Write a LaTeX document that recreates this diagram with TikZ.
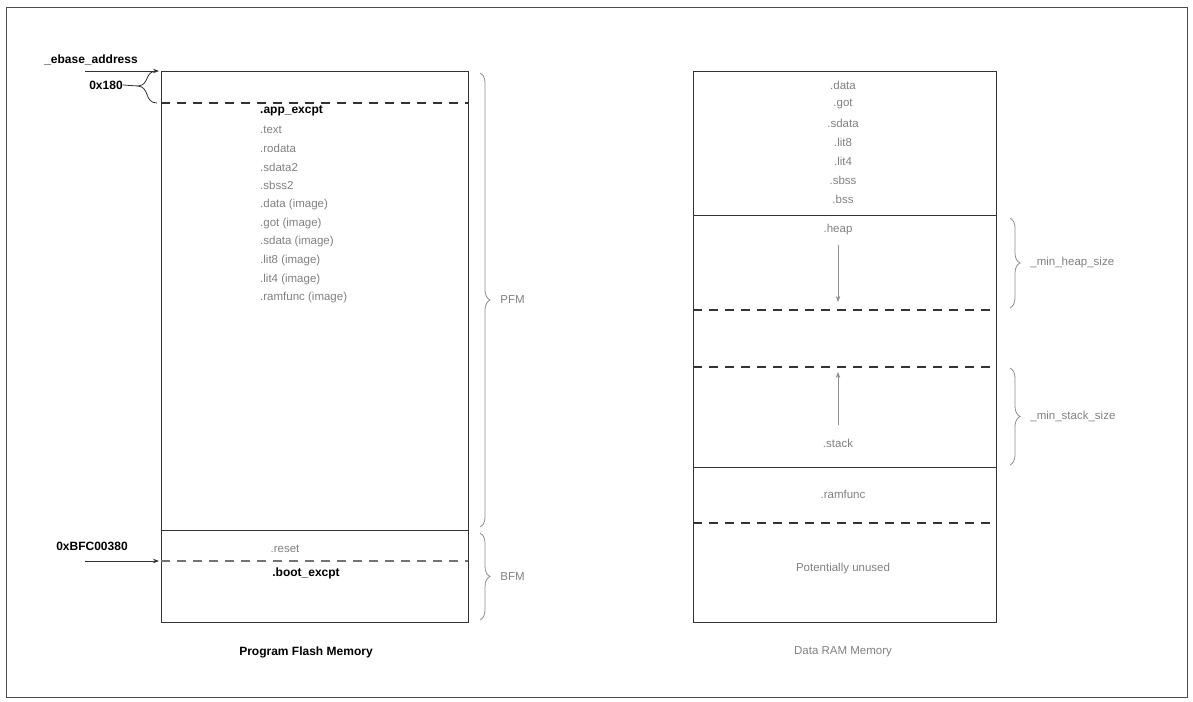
\documentclass[tikz,border=0pt]{standalone}
\usepackage{fontspec}
\setmainfont{Liberation Sans}
\usetikzlibrary{decorations.pathreplacing,arrows.meta}
\begin{document}
\begin{tikzpicture}[x=1pt,y=-1pt,
  box/.style={draw=black!80,line width=1pt},
  dsh/.style={draw=black!80,line width=1.2pt,dash pattern=on 9pt off 7pt},
  gt/.style={text=black!50,font=\fontsize{11.5}{12}\selectfont,inner sep=0pt},
  bt/.style={text=black,font=\bfseries\fontsize{12}{13}\selectfont,inner sep=0pt},
  br/.style={draw=black!45,line width=0.8pt,decorate,decoration={brace,amplitude=10pt}},
  arr/.style={-{Stealth[length=6pt]},draw=black!80,line width=0.8pt}]
\useasboundingbox (0,0) rectangle (1193,701);
\draw[draw=black!70,line width=0.8pt] (6,7) rectangle (1187,697);
% left box
\draw[box] (161,71) rectangle (468,622);
\draw[box] (161,530) -- (468,530);
\draw[dsh] (161,103) -- (468,103);
\draw[dsh,draw=black!55] (161,561) -- (468,561);
\node[bt,anchor=west] (ae) at (260,111) {.app\_excpt};
\foreach \t [count=\i] in {.text,.rodata,.sdata2,.sbss2,.data (image),.got (image),.sdata (image),.lit8 (image),.lit4 (image),.ramfunc (image)}
  \node[gt,anchor=west] (l\i) at (260,111+\i*18.7) {\t};
\node[gt] (reset) at (285,549) {.reset};
\node[bt] (boot) at (306,573) {.boot\_excpt};
\node[bt] (cap1) at (306,652) {Program Flash Memory};
% left labels
\node[bt] (eb) at (91,60) {\_ebase\_address};
\coordinate (eb1) at (85,71); \coordinate (eb2) at (159,71);
\draw[arr] (eb1) -- (eb2);
\node[bt] (o180) at (106,85) {0x180};
\draw[black!80,line width=0.8pt] (157,71) .. controls (144,71) and (150,85) .. (138,86) .. controls (150,87) and (144,103) .. (157,103);
\draw[black!80,line width=0.8pt] (o180.east) -- (138,86);
\node[bt] (bfc) at (92,546) {0xBFC00380};
\coordinate (b1) at (85,561); \coordinate (b2) at (159,561);
\draw[arr] (b1) -- (b2);
% braces left
\draw[br] (480,73) -- (480,527) node[midway,anchor=west,xshift=20pt,gt] (pfm) {PFM};
\draw[br] (480,533) -- (480,620) node[midway,anchor=west,xshift=20pt,gt] (bfm) {BFM};
% right box
\draw[box] (693,71) rectangle (996,622);
\draw[box] (693,215) -- (996,215);
\draw[box] (693,467) -- (996,467);
\draw[dsh] (693,310) -- (996,310);
\draw[dsh] (693,367) -- (996,367);
\draw[dsh] (693,523) -- (996,523);
\foreach \t [count=\i] in {.data,.got,.sdata,.lit8,.lit4,.sbss,.bss}
  \node[gt] (r\i) at (843,66+\i*19) {\t};
\node[gt] (heap) at (838,230) {.heap};
\coordinate (h1) at (838,245); \coordinate (h2) at (838,302);
\draw[arr,draw=black!45] (h1) -- (h2);
\node[gt] (stack) at (838,443) {.stack};
\coordinate (s1) at (838,425); \coordinate (s2) at (838,372);
\draw[arr,draw=black!45] (s1) -- (s2);
\node[gt] (ramf) at (843,494) {.ramfunc};
\node[gt] (pu) at (843,569) {Potentially unused};
\node[gt] (cap2) at (843,652) {Data RAM Memory};
\draw[br] (1010,218) -- (1010,308) node[midway,anchor=west,xshift=20pt,gt] (mh) {\_min\_heap\_size};
\draw[br] (1010,368) -- (1010,465) node[midway,anchor=west,xshift=20pt,gt] (ms) {\_min\_stack\_size};
\end{tikzpicture}
\end{document}
